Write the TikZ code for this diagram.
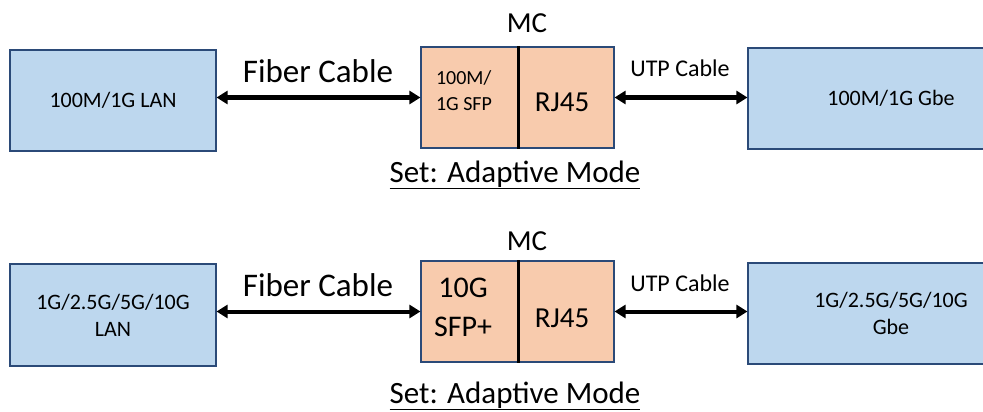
\documentclass[tikz,border=0pt]{standalone}
\usepackage{fontspec}
\setmainfont{Carlito}
\usetikzlibrary{arrows.meta}
\definecolor{lanfill}{HTML}{BDD7EE}
\definecolor{mcfill}{HTML}{F8CBAD}
\definecolor{edge}{HTML}{2B4A78}
\tikzset{
  bluebox/.style={draw=edge, fill=lanfill, line width=1.1pt, inner sep=0pt, align=center, font=\fontsize{22}{27}\selectfont},
  orangebox/.style={draw=edge, fill=mcfill, line width=1.1pt, inner sep=0pt},
  cable/.style={line width=4pt, {Triangle[length=11pt,width=13pt]}-{Triangle[length=11pt,width=13pt]}},
  divider/.style={line width=3.5pt, black},
  lbl/.style={inner sep=0pt, anchor=base},
}
\begin{document}
\begin{tikzpicture}[x=1pt,y=-1pt]
\useasboundingbox (0,0) rectangle (983,412);
\clip (0,0) rectangle (983,412);
\fill[white] (0,0) rectangle (983,412);

% ---- top row ----
\node[bluebox, minimum width=206pt, minimum height=101pt] (lan1) at (113,100.5) {100M/1G LAN};
\node[orangebox, minimum width=97pt, minimum height=101pt] (sfp1) at (469.5,97.5) {};
\node[orangebox, minimum width=96pt, minimum height=101pt] (rj1) at (566,97.5) {};
\draw[divider] (sfp1.north east) -- (sfp1.south east);
\node[bluebox, minimum width=286pt, minimum height=101pt] (gbe1) at (891,98.5) {100M/1G Gbe};
\node[inner sep=0pt, align=left, font=\fontsize{20}{26}\selectfont] (sfpt1) at (464,90.5) {100M/\\1G SFP};
\node[lbl, font=\fontsize{29}{34}\selectfont] (rjt1) at (562,111) {RJ45};
\node[lbl, font=\fontsize{29}{34}\selectfont] (mc1) at (527,33) {MC};
\node[lbl, font=\fontsize{33}{38}\selectfont] (fib1) at (318,82) {Fiber Cable};
\node[lbl, font=\fontsize{24}{28}\selectfont] (utp1) at (680,77) {UTP Cable};
\node[lbl, font=\fontsize{31}{36}\selectfont] (set1) at (515,182) {\underline{Set: Adaptive Mode}};
\draw[cable] (lan1.east |- sfp1.west) -- (sfp1.west);
\draw[cable] (rj1.east) -- (rj1.east -| gbe1.west);

% ---- bottom row ----
\node[bluebox, minimum width=206pt, minimum height=102pt] (lan2) at (113,315) {1G/2.5G/5G/10G\\LAN};
\node[orangebox, minimum width=97pt, minimum height=101pt] (sfp2) at (469.5,311.5) {};
\node[orangebox, minimum width=96pt, minimum height=101pt] (rj2) at (566,311.5) {};
\draw[divider] (sfp2.north east) -- (sfp2.south east);
\node[bluebox, minimum width=286pt, minimum height=101pt] (gbe2) at (891,313.5) {1G/2.5G/5G/10G\\Gbe};
\node[inner sep=0pt, align=center, font=\fontsize{30}{39}\selectfont] (sfpt2) at (463,307.5) {10G\\SFP+};
\node[lbl, font=\fontsize{29}{34}\selectfont] (rjt2) at (562,327) {RJ45};
\node[lbl, font=\fontsize{29}{34}\selectfont] (mc2) at (527,250) {MC};
\node[lbl, font=\fontsize{33}{38}\selectfont] (fib2) at (318,296) {Fiber Cable};
\node[lbl, font=\fontsize{24}{28}\selectfont] (utp2) at (680,291) {UTP Cable};
\node[lbl, font=\fontsize{31}{36}\selectfont] (set2) at (515,403) {\underline{Set: Adaptive Mode}};
\draw[cable] (lan2.east |- sfp2.west) -- (sfp2.west);
\draw[cable] (rj2.east) -- (rj2.east -| gbe2.west);
\end{tikzpicture}
\end{document}
